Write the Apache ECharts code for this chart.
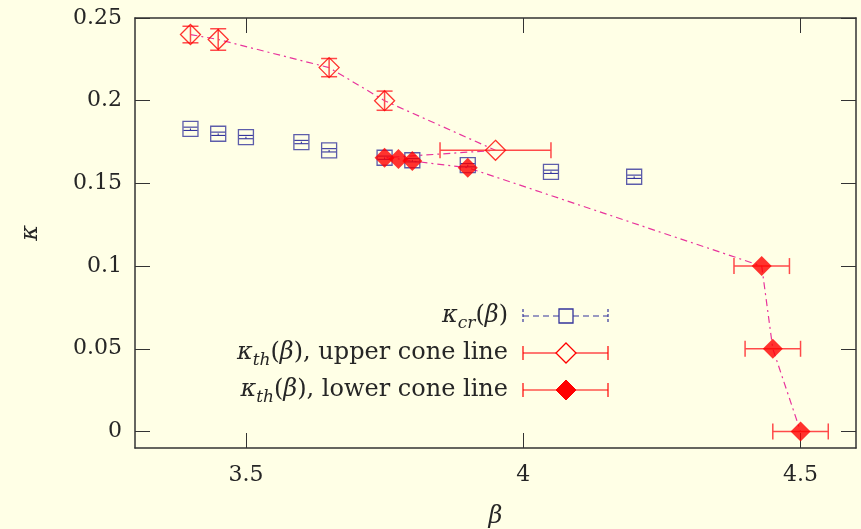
<!DOCTYPE html>
<html>
<head>
<meta charset="utf-8">
<script src="https://cdn.jsdelivr.net/npm/echarts@6/dist/echarts.min.js"></script>
<style>
  html, body { margin: 0; padding: 0; background: #ffffe6; }
  #chart { width: 861px; height: 529px; }
</style>
</head>
<body>
<div id="chart"></div>
<script>
// kappa_cr(beta)
const betaCr    = [3.40, 3.45, 3.50, 3.60, 3.65, 3.75, 3.80, 3.90, 4.05, 4.20];
const kappaCr   = [0.183, 0.180, 0.178, 0.175, 0.170, 0.1655, 0.164, 0.161, 0.157, 0.154];
const kappaCrErr = [0.001, 0.001, 0.001, 0.001, 0.001, 0.001, 0.001, 0.001, 0.001, 0.001];

// kappa_th(beta), upper cone line
const betaUp     = [3.40, 3.45, 3.65, 3.75, 3.95];
const kappaUp    = [0.240, 0.237, 0.220, 0.200, 0.170];
const betaUpErr  = [0, 0, 0, 0, 0.10];
const kappaUpErr = [0.005, 0.0065, 0.0055, 0.0058, 0];

// kappa_th(beta), lower cone line
const betaLo     = [3.75, 3.775, 3.80, 3.90, 4.43, 4.45, 4.50];
const kappaLo    = [0.1655, 0.1648, 0.1635, 0.1595, 0.100, 0.050, 0.000];
const betaLoErr  = [0, 0, 0, 0, 0.05, 0.05, 0.05];
const kappaLoErr = [0, 0, 0, 0, 0, 0, 0];

// axis ticks
const xTicks = [3.5, 4, 4.5];
const yTicks = [0, 0.05, 0.1, 0.15, 0.2, 0.25];

const BG = '#ffffe6';
const BLUE = '#35359c';
const RED = '#ff0000';
const RED_BAR = '#ff4a4a';
const PINK = '#e8349c';
const AXIS = '#333333';
const TEXT = '#262626';
const SERIF = '"DejaVu Serif", "Liberation Serif", serif';

const zip = (...cols) => cols[0].map((_, i) => cols.map(c => c[i]));

// connecting dash-dot curve: upper branch then lower branch
const conePath = zip(betaUp, kappaUp).concat(zip(betaLo, kappaLo));

function errorBars(color, capPx, dash, width) {
  return function (params, api) {
    const x = api.value(0), y = api.value(1), dx = api.value(2), dy = api.value(3);
    const style = { stroke: color, lineWidth: width, lineDash: dash };
    const capStyle = { stroke: color, lineWidth: width };
    const kids = [];
    const h = capPx / 2;
    if (dy > 0) {
      const a = api.coord([x, y - dy]), b = api.coord([x, y + dy]);
      kids.push({ type: 'line', shape: { x1: a[0], y1: a[1], x2: b[0], y2: b[1] }, style });
      kids.push({ type: 'line', shape: { x1: a[0] - h, y1: a[1], x2: a[0] + h, y2: a[1] }, style: capStyle });
      kids.push({ type: 'line', shape: { x1: b[0] - h, y1: b[1], x2: b[0] + h, y2: b[1] }, style: capStyle });
    }
    if (dx > 0) {
      const a = api.coord([x - dx, y]), b = api.coord([x + dx, y]);
      kids.push({ type: 'line', shape: { x1: a[0], y1: a[1], x2: b[0], y2: b[1] }, style });
      kids.push({ type: 'line', shape: { x1: a[0], y1: a[1] - h, x2: a[0], y2: a[1] + h }, style: capStyle });
      kids.push({ type: 'line', shape: { x1: b[0], y1: b[1] - h, x2: b[0], y2: b[1] + h }, style: capStyle });
    }
    return { type: 'group', children: kids };
  };
}

const tickLen = 15;
const axisCommon = {
  axisLine: { show: true, onZero: false, lineStyle: { color: AXIS, width: 1.5 } },
  splitLine: { show: false },
  axisTick: { show: true, inside: true, length: tickLen, lineStyle: { color: AXIS, width: 1 } }
};

const rich = {
  n: { fontFamily: SERIF, fontSize: 24, fill: TEXT, lineHeight: 32, verticalAlign: 'middle' },
  i: { fontFamily: SERIF, fontSize: 24, fontStyle: 'italic', fill: TEXT, lineHeight: 32, verticalAlign: 'middle' },
  s: { fontFamily: SERIF, fontSize: 17, fontStyle: 'italic', fill: TEXT, lineHeight: 20, verticalAlign: 'bottom' }
};

function diamondPts(cx, cy, r) {
  return [[cx, cy - r], [cx + r, cy], [cx, cy + r], [cx - r, cy]];
}

const lgX0 = 523, lgX1 = 608, lgXm = 566, lgTextX = 508;
const rows = [316, 353, 390];

const legendGraphics = [
  { type: 'text', x: lgTextX, y: rows[0],
    style: { text: '{i|κ}{s|cr}{n|(}{i|β}{n|)}', rich, align: 'right', verticalAlign: 'middle' } },
  { type: 'line', shape: { x1: lgX0, y1: rows[0], x2: lgX1, y2: rows[0] },
    style: { stroke: BLUE, lineWidth: 1.2, lineDash: [6, 4] } },
  { type: 'line', shape: { x1: lgX0, y1: rows[0] - 7, x2: lgX0, y2: rows[0] + 7 }, style: { stroke: BLUE, lineWidth: 1.2, lineDash: [3, 2] } },
  { type: 'line', shape: { x1: lgX1, y1: rows[0] - 7, x2: lgX1, y2: rows[0] + 7 }, style: { stroke: BLUE, lineWidth: 1.2, lineDash: [3, 2] } },
  { type: 'rect', shape: { x: lgXm - 7, y: rows[0] - 7, width: 14, height: 14 },
    style: { fill: BG, stroke: BLUE, lineWidth: 1.3 } },

  { type: 'text', x: lgTextX, y: rows[1],
    style: { text: '{i|κ}{s|th}{n|(}{i|β}{n|), upper cone line}', rich, align: 'right', verticalAlign: 'middle' } },
  { type: 'line', shape: { x1: lgX0, y1: rows[1], x2: lgX1, y2: rows[1] }, style: { stroke: RED_BAR, lineWidth: 1.5 } },
  { type: 'line', shape: { x1: lgX0, y1: rows[1] - 7, x2: lgX0, y2: rows[1] + 7 }, style: { stroke: RED, lineWidth: 1.2 } },
  { type: 'line', shape: { x1: lgX1, y1: rows[1] - 7, x2: lgX1, y2: rows[1] + 7 }, style: { stroke: RED, lineWidth: 1.2 } },
  { type: 'polygon', shape: { points: diamondPts(lgXm, rows[1], 10) },
    style: { fill: BG, stroke: RED, lineWidth: 1.3 } },

  { type: 'text', x: lgTextX, y: rows[2],
    style: { text: '{i|κ}{s|th}{n|(}{i|β}{n|), lower cone line}', rich, align: 'right', verticalAlign: 'middle' } },
  { type: 'line', shape: { x1: lgX0, y1: rows[2], x2: lgX1, y2: rows[2] }, style: { stroke: RED, lineWidth: 1.2 } },
  { type: 'line', shape: { x1: lgX0, y1: rows[2] - 7, x2: lgX0, y2: rows[2] + 7 }, style: { stroke: RED, lineWidth: 1.2 } },
  { type: 'line', shape: { x1: lgX1, y1: rows[2] - 7, x2: lgX1, y2: rows[2] + 7 }, style: { stroke: RED, lineWidth: 1.2 } },
  { type: 'polygon', shape: { points: diamondPts(lgXm, rows[2], 10) },
    style: { fill: RED, stroke: RED, lineWidth: 1 } }
];

const chart = echarts.init(document.getElementById('chart'));

chart.setOption({
  backgroundColor: BG,
  animation: false,
  grid: { left: 135, right: 5, top: 18, bottom: 81, containLabel: false, outerBoundsMode: 'none' },
  xAxis: [
    Object.assign({}, axisCommon, {
      type: 'value', min: 3.3, max: 4.6, position: 'bottom',
      name: 'β', nameLocation: 'middle', nameGap: 57,
      nameTextStyle: { fontFamily: SERIF, fontSize: 24, fontStyle: 'italic', color: TEXT },
      axisTick: Object.assign({}, axisCommon.axisTick, { customValues: xTicks }),
      axisLabel: { customValues: xTicks, margin: 16, fontFamily: SERIF, fontSize: 22, color: TEXT,
                   formatter: v => String(v) }
    }),
    Object.assign({}, axisCommon, {
      type: 'value', min: 3.3, max: 4.6, position: 'top',
      axisTick: Object.assign({}, axisCommon.axisTick, { customValues: xTicks }),
      axisLabel: { show: false }
    })
  ],
  yAxis: [
    Object.assign({}, axisCommon, {
      type: 'value', min: -0.01, max: 0.25, position: 'left',
      name: 'κ', nameLocation: 'middle', nameGap: 92, nameRotate: 90,
      nameTextStyle: { fontFamily: SERIF, fontSize: 24, fontStyle: 'italic', color: TEXT },
      axisTick: Object.assign({}, axisCommon.axisTick, { customValues: yTicks }),
      axisLabel: { customValues: yTicks, margin: 13, fontFamily: SERIF, fontSize: 22, color: TEXT,
                   formatter: v => String(v) }
    }),
    Object.assign({}, axisCommon, {
      type: 'value', min: -0.01, max: 0.25, position: 'right',
      axisTick: Object.assign({}, axisCommon.axisTick, { customValues: yTicks }),
      axisLabel: { show: false }
    })
  ],
  series: [
    {
      type: 'line', data: conePath, symbol: 'none', z: 1, silent: true,
      lineStyle: { color: PINK, width: 1.2, type: [7, 4, 2, 4] }
    },
    {
      type: 'custom', z: 2, silent: true,
      renderItem: errorBars(BLUE, 14, [2, 2], 1.1),
      encode: { x: 0, y: 1 },
      data: zip(betaCr, kappaCr, betaCr.map(() => 0), kappaCrErr)
    },
    {
      type: 'scatter', z: 3, silent: true,
      data: zip(betaCr, kappaCr), symbol: 'rect', symbolSize: 15,
      itemStyle: { color: 'none', borderColor: BLUE, borderWidth: 1.3 }
    },
    {
      type: 'custom', z: 2, silent: true,
      renderItem: errorBars(RED_BAR, 16, null, 1.5),
      encode: { x: 0, y: 1 },
      data: zip(betaUp, kappaUp, betaUpErr, kappaUpErr)
    },
    {
      type: 'scatter', z: 3, silent: true,
      data: zip(betaUp, kappaUp), symbol: 'diamond', symbolSize: [20, 20],
      itemStyle: { color: 'none', borderColor: RED, borderWidth: 1.3 }
    },
    {
      type: 'custom', z: 2, silent: true,
      renderItem: errorBars(RED_BAR, 16, null, 1.5),
      encode: { x: 0, y: 1 },
      data: zip(betaLo, kappaLo, betaLoErr, kappaLoErr)
    },
    {
      type: 'scatter', z: 4, silent: true,
      data: zip(betaLo, kappaLo), symbol: 'diamond', symbolSize: [20, 20],
      itemStyle: { color: RED }
    }
  ],
  graphic: legendGraphics
});
</script>
</body>
</html>
